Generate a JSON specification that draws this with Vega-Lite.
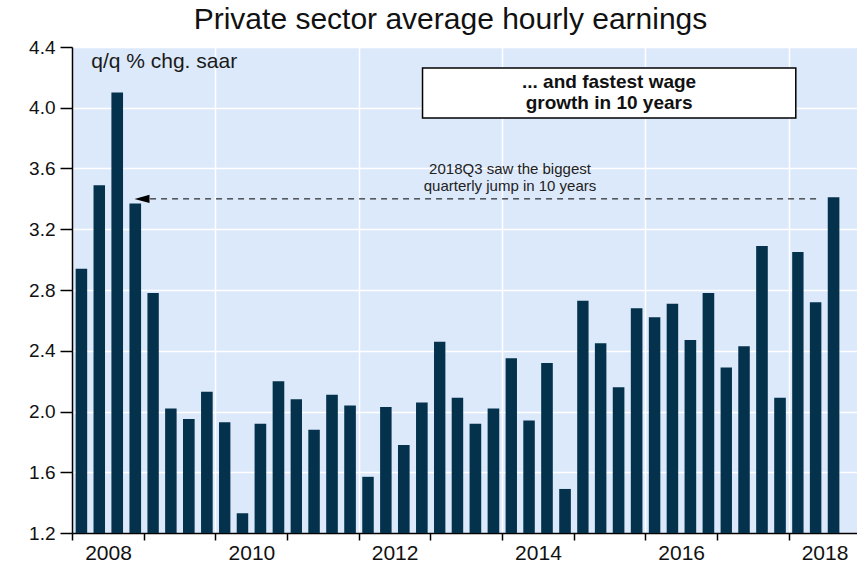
{
  "$schema": "https://vega.github.io/schema/vega-lite/v6.json",
  "width": 785,
  "height": 486,
  "autosize": "none",
  "padding": {"left": 72, "top": 47, "right": 0, "bottom": 29},
  "background": "white",
  "config": {
    "view": {"fill": "#DCE9FB", "stroke": null},
    "font": "Liberation Sans"
  },
  "title": {
    "text": "Private sector average hourly earnings",
    "fontSize": 30,
    "fontWeight": "normal",
    "color": "#111111",
    "font": "Liberation Sans",
    "offset": 3,
    "dx": -14,
    "anchor": "middle"
  },
  "datasets": {
    "earnings": [
      {"date": "2008-01-01T00:00:00", "value": 2.94},
      {"date": "2008-04-01T00:00:00", "value": 3.49},
      {"date": "2008-07-01T00:00:00", "value": 4.10},
      {"date": "2008-10-01T00:00:00", "value": 3.37},
      {"date": "2009-01-01T00:00:00", "value": 2.78},
      {"date": "2009-04-01T00:00:00", "value": 2.02},
      {"date": "2009-07-01T00:00:00", "value": 1.95},
      {"date": "2009-10-01T00:00:00", "value": 2.13},
      {"date": "2010-01-01T00:00:00", "value": 1.93},
      {"date": "2010-04-01T00:00:00", "value": 1.33},
      {"date": "2010-07-01T00:00:00", "value": 1.92},
      {"date": "2010-10-01T00:00:00", "value": 2.20},
      {"date": "2011-01-01T00:00:00", "value": 2.08},
      {"date": "2011-04-01T00:00:00", "value": 1.88},
      {"date": "2011-07-01T00:00:00", "value": 2.11},
      {"date": "2011-10-01T00:00:00", "value": 2.04},
      {"date": "2012-01-01T00:00:00", "value": 1.57},
      {"date": "2012-04-01T00:00:00", "value": 2.03},
      {"date": "2012-07-01T00:00:00", "value": 1.78},
      {"date": "2012-10-01T00:00:00", "value": 2.06},
      {"date": "2013-01-01T00:00:00", "value": 2.46},
      {"date": "2013-04-01T00:00:00", "value": 2.09},
      {"date": "2013-07-01T00:00:00", "value": 1.92},
      {"date": "2013-10-01T00:00:00", "value": 2.02},
      {"date": "2014-01-01T00:00:00", "value": 2.35},
      {"date": "2014-04-01T00:00:00", "value": 1.94},
      {"date": "2014-07-01T00:00:00", "value": 2.32},
      {"date": "2014-10-01T00:00:00", "value": 1.49},
      {"date": "2015-01-01T00:00:00", "value": 2.73},
      {"date": "2015-04-01T00:00:00", "value": 2.45},
      {"date": "2015-07-01T00:00:00", "value": 2.16},
      {"date": "2015-10-01T00:00:00", "value": 2.68},
      {"date": "2016-01-01T00:00:00", "value": 2.62},
      {"date": "2016-04-01T00:00:00", "value": 2.71},
      {"date": "2016-07-01T00:00:00", "value": 2.47},
      {"date": "2016-10-01T00:00:00", "value": 2.78},
      {"date": "2017-01-01T00:00:00", "value": 2.29},
      {"date": "2017-04-01T00:00:00", "value": 2.43},
      {"date": "2017-07-01T00:00:00", "value": 3.09},
      {"date": "2017-10-01T00:00:00", "value": 2.09},
      {"date": "2018-01-01T00:00:00", "value": 3.05},
      {"date": "2018-04-01T00:00:00", "value": 2.72},
      {"date": "2018-07-01T00:00:00", "value": 3.41}
    ],
    "single": [{}]
  },
  "data": {"name": "single"},
  "layer": [
    {
      "data": {"name": "earnings"},
      "mark": {"type": "bar", "color": "#04324D", "width": {"band": 0.7}},
      "encoding": {
        "x": {
          "field": "date",
          "timeUnit": "yearquarter",
          "type": "temporal",
          "title": null,
          "scale": {
            "domain": [
              {"year": 2008, "month": 1, "date": 1},
              {"year": 2018, "month": 12, "date": 16}
            ]
          },
          "axis": {
            "values": [
              {"year": 2008, "month": 1, "date": 1},
              {"year": 2009, "month": 1, "date": 1},
              {"year": 2010, "month": 1, "date": 1},
              {"year": 2011, "month": 1, "date": 1},
              {"year": 2012, "month": 1, "date": 1},
              {"year": 2013, "month": 1, "date": 1},
              {"year": 2014, "month": 1, "date": 1},
              {"year": 2015, "month": 1, "date": 1},
              {"year": 2016, "month": 1, "date": 1},
              {"year": 2017, "month": 1, "date": 1},
              {"year": 2018, "month": 1, "date": 1}
            ],
            "labelExpr": "year(datum.value) % 2 == 0 ? timeFormat(datum.value, '%Y') : ''",
            "labelOffset": 36,
            "labelFlush": false,
            "labelOverlap": false,
            "labelFontSize": 21,
            "labelColor": "#111111",
            "labelPadding": 2,
            "labelBaseline": "top",
            "domainColor": "#000000",
            "domainWidth": 1.5,
            "tickColor": "#000000",
            "tickSize": 7,
            "tickWidth": 1.5,
            "grid": true,
            "gridColor": "#FFFFFF",
            "gridWidth": 1.5,
            "gridOpacity": {"condition": {"test": "year(datum.value) % 2 == 0", "value": 1}, "value": 0}
          }
        },
        "y": {
          "field": "value",
          "type": "quantitative",
          "title": null,
          "scale": {"domain": [1.2, 4.4], "nice": false, "zero": false},
          "axis": {
            "values": [1.2, 1.6, 2.0, 2.4, 2.8, 3.2, 3.6, 4.0, 4.4],
            "format": ".1f",
            "labelFontSize": 19,
            "labelColor": "#111111",
            "labelPadding": 5,
            "domainColor": "#000000",
            "domainWidth": 1.5,
            "tickColor": "#000000",
            "tickSize": 12,
            "tickWidth": 1.5,
            "grid": true,
            "gridColor": "#FFFFFF",
            "gridWidth": 1.5
          }
        },
        "y2": {"datum": 1.2}
      }
    },
    {
      "mark": {"type": "rule", "strokeDash": [6, 5], "strokeWidth": 1, "color": "#000000"},
      "encoding": {
        "x": {"datum": {"year": 2009, "month": 2, "date": 2}, "type": "temporal"},
        "x2": {"datum": {"year": 2018, "month": 5, "date": 27}},
        "y": {"datum": 3.40, "type": "quantitative"}
      }
    },
    {
      "mark": {"type": "point", "shape": "M -1 0 L 1 -0.55 L 1 0.55 Z", "size": 225, "filled": true, "color": "#000000", "opacity": 1},
      "encoding": {
        "x": {"datum": {"year": 2008, "month": 12, "date": 23}, "type": "temporal"},
        "y": {"datum": 3.40, "type": "quantitative"}
      }
    },
    {
      "mark": {"type": "rect", "fill": "#FFFFFF", "stroke": "#000000", "strokeWidth": 1.5},
      "encoding": {
        "x": {"datum": {"year": 2012, "month": 11, "date": 22}, "type": "temporal"},
        "x2": {"datum": {"year": 2018, "month": 2, "date": 7}},
        "y": {"datum": 4.262, "type": "quantitative"},
        "y2": {"datum": 3.933}
      }
    },
    {
      "mark": {"type": "text", "text": "... and fastest wage", "fontSize": 19, "fontWeight": "bold", "color": "#111111", "align": "center", "baseline": "middle"},
      "encoding": {
        "x": {"datum": {"year": 2015, "month": 7, "date": 1}, "type": "temporal"},
        "y": {"datum": 4.168, "type": "quantitative"}
      }
    },
    {
      "mark": {"type": "text", "text": "growth in 10 years", "fontSize": 19, "fontWeight": "bold", "color": "#111111", "align": "center", "baseline": "middle"},
      "encoding": {
        "x": {"datum": {"year": 2015, "month": 7, "date": 1}, "type": "temporal"},
        "y": {"datum": 4.032, "type": "quantitative"}
      }
    },
    {
      "mark": {"type": "text", "text": "2018Q3 saw the biggest", "fontSize": 15, "color": "#222222", "align": "center", "baseline": "middle"},
      "encoding": {
        "x": {"datum": {"year": 2014, "month": 2, "date": 11}, "type": "temporal"},
        "y": {"datum": 3.595, "type": "quantitative"}
      }
    },
    {
      "mark": {"type": "text", "text": "quarterly jump in 10 years", "fontSize": 15, "color": "#222222", "align": "center", "baseline": "middle"},
      "encoding": {
        "x": {"datum": {"year": 2014, "month": 2, "date": 11}, "type": "temporal"},
        "y": {"datum": 3.488, "type": "quantitative"}
      }
    },
    {
      "mark": {"type": "text", "text": "q/q % chg. saar", "fontSize": 21, "color": "#1a1a1a", "align": "left", "baseline": "middle"},
      "encoding": {
        "x": {"datum": {"year": 2008, "month": 4, "date": 8}, "type": "temporal"},
        "y": {"datum": 4.30, "type": "quantitative"}
      }
    }
  ]
}
